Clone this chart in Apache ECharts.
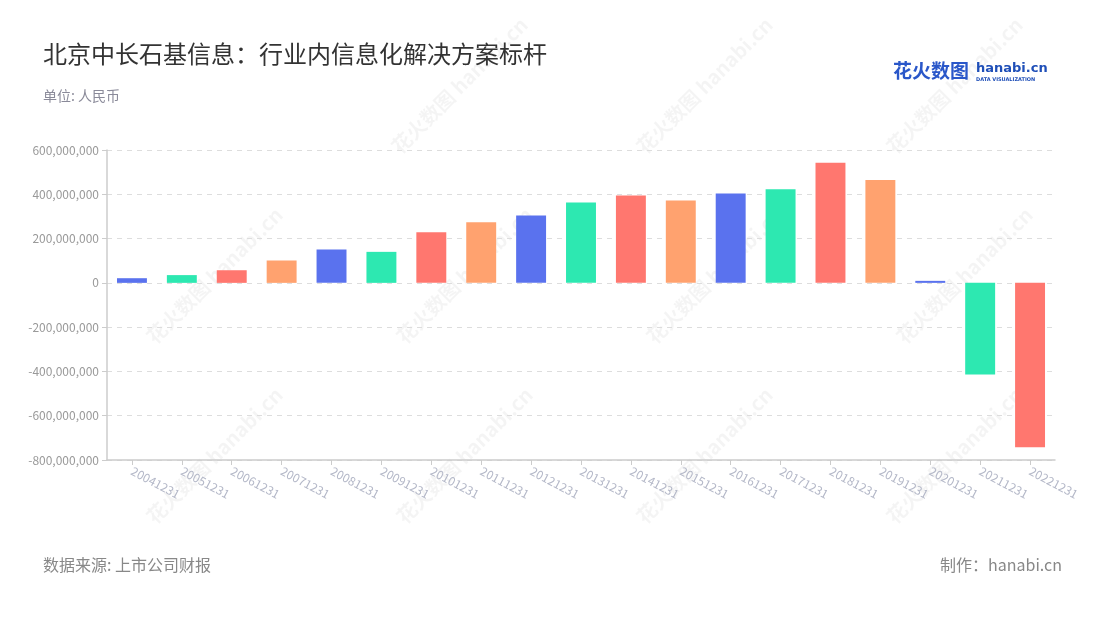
<!DOCTYPE html>
<html>
<head>
<meta charset="utf-8">
<script src="https://cdn.jsdelivr.net/npm/echarts@6/dist/echarts.min.js"></script>
<style>
html,body{margin:0;padding:0;background:#fff;}
#chart{width:1100px;height:620px;}
</style>
</head>
<body>
<div id="chart"></div>
<script>
var categories = ['20041231','20051231','20061231','20071231','20081231','20091231','20101231','20111231','20121231','20131231','20141231','20151231','20161231','20171231','20181231','20191231','20201231','20211231','20221231'];
var values = [21000000, 35000000, 57000000, 101000000, 151000000, 140000000, 228000000, 274000000, 304000000, 363000000, 395000000, 372000000, 404000000, 423000000, 542000000, 465000000, 8000000, -414000000, -742000000];
var palette = ['#5A72EE', '#2DE8B1', '#FF776F', '#FFA26F'];
var yTicks = { min: -800000000, max: 600000000, interval: 200000000 };

var chart = echarts.init(document.getElementById('chart'), null, {renderer: 'canvas'});

var font = '"Noto Sans CJK SC","Noto Sans",sans-serif';

function fmt(v) {
  var s = Math.abs(v).toString().replace(/\B(?=(\d{3})+(?!\d))/g, ',');
  return (v < 0 ? '-' : '') + s;
}

var wm = [];
var wmPos = [[395,150],[640,150],[890,150],[150,340],[400,340],[650,340],[900,340],[150,520],[400,520],[640,520],[890,520]];
wmPos.forEach(function(p){
  wm.push({
    type: 'text', x: p[0], y: p[1], rotation: Math.PI/4, silent: true, z: -1,
    style: { text: '花火数图 hanabi.cn', fill: 'rgba(0,0,0,0.045)', font: 'bold 20px ' + font, align: 'left', verticalAlign: 'middle' }
  });
});

var option = {
  backgroundColor: '#fff',
  textStyle: { fontFamily: font },
  title: [
    { text: '北京中长石基信息：行业内信息化解决方案标杆', left: 38, top: 37,
      textStyle: { fontSize: 24, fontWeight: 'normal', color: '#333', fontFamily: font } },
    { text: '单位: 人民币', left: 38, top: 84,
      textStyle: { fontSize: 14, fontWeight: 'normal', color: '#8a8a99', fontFamily: font } }
  ],
  grid: { left: 107, right: 45, top: 150, bottom: 160, containLabel: false },
  xAxis: {
    type: 'category',
    data: categories,
    axisLine: { onZero: false, lineStyle: { color: '#ccc', width: 1.5 } },
    axisTick: { show: true, alignWithLabel: true, lineStyle: { color: '#ccc' } },
    axisLabel: { rotate: -28, color: '#b4b8c8', fontSize: 12, margin: 10, fontFamily: font }
  },
  yAxis: {
    type: 'value',
    min: yTicks.min, max: yTicks.max, interval: yTicks.interval,
    axisLine: { show: true, lineStyle: { color: '#ccc', width: 1.5 } },
    axisTick: { show: true, lineStyle: { color: '#ccc' } },
    axisLabel: { color: '#999', fontSize: 12, margin: 8, formatter: fmt, fontFamily: font },
    splitLine: { show: true, lineStyle: { type: [5, 5], color: '#ddd' } }
  },
  series: [{
    type: 'bar',
    data: values.map(function(v, i){
      return { value: v, itemStyle: { color: palette[i % 4] } };
    }),
    barWidth: '60%',
    barMinHeight: 2
  }],
  graphic: wm.concat([
    { type: 'text', left: 893, top: 61, silent: true,
      style: { text: '花火数图', fill: '#2a57c9', font: 'bold 19px ' + font } },
    { type: 'text', left: 976, top: 62, silent: true,
      style: { text: 'hanabi.cn', fill: '#1f4fb8', font: 'bold 13px "DejaVu Sans",sans-serif' } },
    { type: 'text', left: 976, top: 77, silent: true,
      style: { text: 'DATA VISUALIZATION', fill: '#1f4fb8', font: 'bold 5px "DejaVu Sans",sans-serif' } },
    { type: 'text', left: 43, top: 557, silent: true,
      style: { text: '数据来源: 上市公司财报', fill: '#888', font: '16px ' + font } },
    { type: 'text', right: 38, top: 557, silent: true,
      style: { text: '制作：hanabi.cn', fill: '#888', font: '16px ' + font } }
  ])
};
chart.setOption(option);
</script>
</body>
</html>
